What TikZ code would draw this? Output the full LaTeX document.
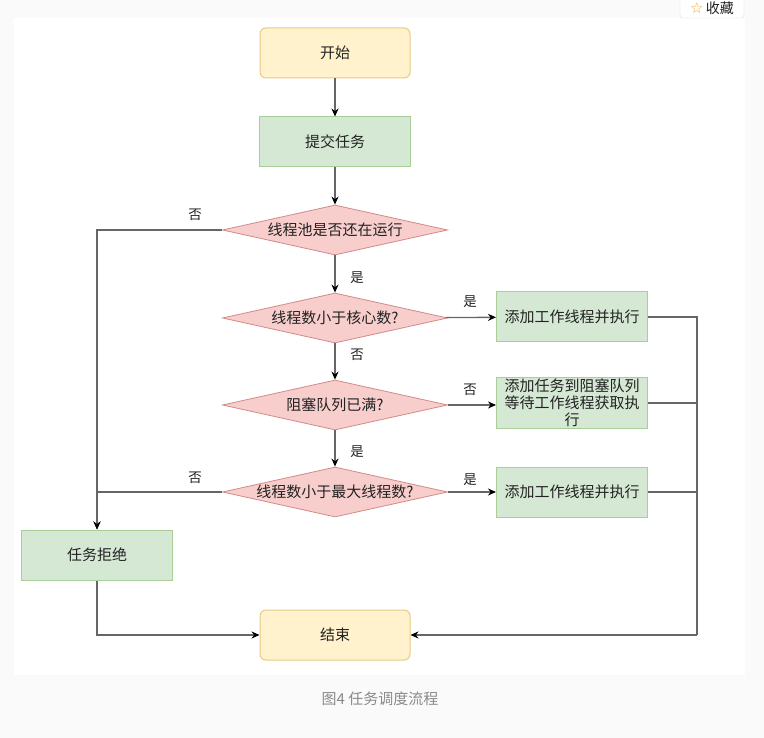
\documentclass[tikz,border=0pt]{standalone}
\usepackage{fontspec}
\setmainfont{Noto Sans CJK SC}
\newfontfamily\symfont{DejaVu Sans}
\usetikzlibrary{arrows.meta,positioning,shapes.geometric}
\definecolor{termfill}{HTML}{FFF2CC}
\definecolor{termdraw}{HTML}{E6CB82}
\definecolor{procfill}{HTML}{D5E8D4}
\definecolor{procdraw}{HTML}{A9CE98}
\definecolor{condfill}{HTML}{F8CECC}
\definecolor{conddraw}{HTML}{D38A87}
\definecolor{linegray}{HTML}{666666}
\definecolor{txt}{HTML}{222222}
\definecolor{capgray}{HTML}{8A8A8A}
\definecolor{pagebg}{HTML}{FAFAFA}
\definecolor{favdraw}{HTML}{DDDDDD}
\definecolor{starorange}{HTML}{F5A623}

\begin{document}
\begin{tikzpicture}[>={Stealth[length=8pt,width=7pt,color=black]},x=1pt,y=-1pt,
 font=\fontsize{15}{17}\selectfont,
 term/.style={draw=termdraw,fill=termfill,rounded corners=6pt,line width=1pt,
   minimum width=150pt,minimum height=50pt,text=txt},
 proc/.style={draw=procdraw,fill=procfill,line width=1pt,align=center,inner sep=0pt,
   minimum width=151pt,minimum height=50pt,text=txt},
 cond/.style={diamond,aspect=4.5,draw=conddraw,fill=condfill,line width=0.8pt,
   inner sep=0pt,minimum width=225pt,minimum height=50pt,text=txt},
 line/.style={draw=linegray,line width=1.3pt},
 lab/.style={font=\fontsize{13.5}{13.5}\selectfont,text=txt,inner sep=1pt}]
\useasboundingbox (0,0) rectangle (764,738);
\fill[pagebg] (0,0) rectangle (764,738);
\fill[white] (14,18) rectangle (745,675);
% button in the page corner
\draw[favdraw,fill=white,rounded corners=3pt] (680,-6) rectangle (744,18);
\node[inner sep=0pt,font=\fontsize{14}{14}\selectfont,text=txt] (fav) at (712,8)
  {{\symfont\fontsize{15}{15}\selectfont\textcolor{starorange}{☆}}\,收藏};
% nodes
\node[term] (start) at (335,53) {开始};
\node[proc] (submit) at (335,142) {提交任务};
\node[cond] (running) at (335,230) {线程池是否还在运行};
\node[cond] (corechk) at (335,318) {线程数小于核心数?};
\node[cond] (queuechk) at (335,405) {阻塞队列已满?};
\node[cond] (maxchk) at (335,492) {线程数小于最大线程数?};
\node[proc] (addcore) at (572,317) {添加工作线程并执行};
\node[proc] (enqueue) at (572,403) {添加任务到阻塞队列\\等待工作线程获取执\\行};
\node[proc] (addmax) at (572,492) {添加工作线程并执行};
\node[proc] (reject) at (97,555) {任务拒绝};
\node[term] (end) at (335,635) {结束};
\coordinate (bus) at (697,635);
% labels
\node[lab] (lno1) at (195,215) {否};
\node[lab] (lyes1) at (357,278) {是};
\node[lab] (lyes2) at (470,302) {是};
\node[lab] (lno2) at (357,355) {否};
\node[lab] (lno3) at (470,390) {否};
\node[lab] (lyes3) at (357,452) {是};
\node[lab] (lno4) at (195,478) {否};
\node[lab] (lyes4) at (470,480) {是};
% connectors
\draw[line,->] (start) -- (submit);
\draw[line,->] (submit) -- (running);
\draw[line,->] (running) -- (corechk);
\draw[line,->] (corechk) -- (queuechk);
\draw[line,->] (queuechk) -- (maxchk);
\draw[line,->] (corechk) -- (addcore);
\draw[line,->] (queuechk.east) -- (queuechk.east -| enqueue.west);
\draw[line,->] (maxchk) -- (addmax);
\draw[line,->] (running) -| (reject);
\draw[line,->] (maxchk) -| (reject);
\draw[line,->] (reject) |- (end);
\draw[line] (addcore) -| (bus);
\draw[line] (enqueue) -| (bus);
\draw[line] (addmax) -| (bus);
\draw[line,->] (bus) -- (end);
% caption
\node[font=\fontsize{15}{15}\selectfont,text=capgray] (caption) at (380,699) {图4\ 任务调度流程};
\end{tikzpicture}
\end{document}
